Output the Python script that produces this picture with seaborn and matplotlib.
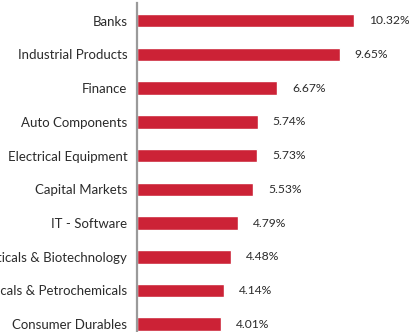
import matplotlib
matplotlib.use("Agg")
import matplotlib.pyplot as plt
import seaborn as sns
import pandas as pd

sectors = [
    "Banks",
    "Industrial Products",
    "Finance",
    "Auto Components",
    "Electrical Equipment",
    "Capital Markets",
    "IT - Software",
    "Pharmaceuticals & Biotechnology",
    "Chemicals & Petrochemicals",
    "Consumer Durables",
]
weights = [10.32, 9.65, 6.67, 5.74, 5.73, 5.53, 4.79, 4.48, 4.14, 4.01]

df = pd.DataFrame({"sector": sectors, "weight": weights})

sns.set_style("white")
plt.rcParams["font.family"] = ["Lato", "DejaVu Sans"]

W, H = 409, 332
fig = plt.figure(figsize=(W / 100, H / 100), dpi=100)
ax = fig.add_axes([137 / W, 0, (W - 137) / W, (H - 3) / H])

sns.barplot(data=df, x="weight", y="sector", orient="h", color="#CC2236",
            saturation=1, width=0.4, ax=ax)

ax.set_xlim(0, (W - 137) / 21.0)
ax.set_ylim(9.23, -0.52)
ax.set_xlabel("")
ax.set_ylabel("")
ax.set_xticks([])

for s in ["top", "right", "bottom"]:
    ax.spines[s].set_visible(False)
ax.spines["left"].set_color("#9a9a9a")
ax.spines["left"].set_linewidth(1.6)

ax.tick_params(axis="y", length=0, pad=7, labelsize=9.5, labelcolor="#2b2b2b")

for i, v in enumerate(weights):
    ax.text(v + 15 / 21.0, i, f"{v:.2f}%", va="center", ha="left",
            fontsize=8.7, color="#2b2b2b")

fig.savefig("out.png", dpi=100)
